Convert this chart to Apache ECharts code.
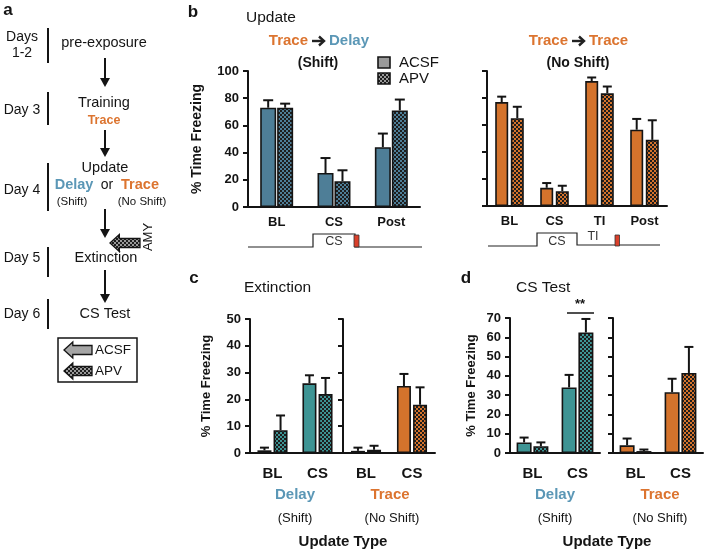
<!DOCTYPE html>
<html><head><meta charset="utf-8">
<script src="https://cdn.jsdelivr.net/npm/echarts@6/dist/echarts.min.js"></script>
<style>html,body{margin:0;padding:0;background:#fff}#c{width:710px;height:552px}</style>
</head><body><div id="c"></div>
<script>
// ---------- data ----------
const catsB1 = ['BL', 'CS', 'Post'];
const b1Acsf = [73, 25, 44];
const b1AcsfErr = [5.5, 11, 10];
const b1Apv = [73, 19, 71];
const b1ApvErr = [3, 8, 8];

const catsB2 = ['BL', 'CS', 'TI', 'Post'];
const b2Acsf = [77, 13.5, 92.5, 56.5];
const b2AcsfErr = [4, 3.5, 2.7, 8];
const b2Apv = [65, 11, 83.5, 49];
const b2ApvErr = [8.5, 4, 5, 14.5];

const catsCD = ['BL', 'CS'];
const c1Acsf = [1, 26];
const c1AcsfErr = [1, 3];
const c1Apv = [8.5, 22];
const c1ApvErr = [5.5, 6];
const c2Acsf = [0.8, 25];
const c2AcsfErr = [1.2, 4.5];
const c2Apv = [1.2, 18];
const c2ApvErr = [1.5, 6.5];

const d1Acsf = [5.5, 34];
const d1AcsfErr = [2.5, 6.5];
const d1Apv = [3.5, 62.5];
const d1ApvErr = [2, 7];
const d2Acsf = [4, 31.5];
const d2AcsfErr = [3.5, 7];
const d2Apv = [1, 41.5];
const d2ApvErr = [0.8, 13.5];

// ---------- styles ----------
const FONT = "'Liberation Sans', Arial, sans-serif";
const ORANGE = '#D4732C';
const BLUE_B = '#4E7E97';
const TEAL = '#3E9494';
const DELAY_TXT = '#5B97B6';
const TRACE_TXT = '#DC742F';
const INK = '#141414';

function pattern(base, dark) {
  const c = document.createElement('canvas');
  c.width = 4; c.height = 4;
  const x = c.getContext('2d');
  x.fillStyle = dark; x.fillRect(0, 0, 4, 4);
  x.fillStyle = base; x.fillRect(0, 0, 2, 2); x.fillRect(2, 2, 2, 2);
  return { image: c, repeat: 'repeat' };
}

const grids = [
  { left: 248, top: 71, width: 172, height: 136 },
  { left: 487, top: 71, width: 180, height: 135 },
  { left: 250, top: 319, width: 90, height: 134 },
  { left: 343, top: 319, width: 92, height: 134 },
  { left: 510, top: 318, width: 90, height: 135 },
  { left: 613, top: 318, width: 90, height: 135 }
];

function xAx(i, cats, fs, margin) {
  return {
    gridIndex: i, type: 'category', data: cats,
    axisLine: { lineStyle: { color: INK, width: 2 } },
    axisTick: { alignWithLabel: true, length: 4, lineStyle: { color: INK, width: 2 } },
    axisLabel: { color: INK, fontWeight: 'bold', fontSize: fs, fontFamily: FONT, margin: margin }
  };
}
function yAx(i, max, interval, showLabels, name, nameGap, nameFs, labelFs) {
  return {
    gridIndex: i, type: 'value', min: 0, max: max, interval: interval,
    axisLine: { show: true, lineStyle: { color: INK, width: 2 } },
    axisTick: { show: true, length: 5, lineStyle: { color: INK, width: 2 } },
    splitLine: { show: false },
    axisLabel: { show: showLabels, color: INK, fontWeight: 'bold', fontSize: labelFs, fontFamily: FONT, margin: 9 },
    name: name, nameLocation: 'middle', nameGap: nameGap,
    nameTextStyle: { color: INK, fontWeight: 'bold', fontSize: nameFs, fontFamily: FONT }
  };
}

function barSeries(i, acsf, acsfErr, apv, apvErr, color, bw, gapFrac, capHalf) {
  const off = (bw + gapFrac * bw) / 2;
  const errSeries = (vals, errs, dir) => ({
    type: 'custom', xAxisIndex: i, yAxisIndex: i, z: 4, silent: true,
    data: vals.map((v, k) => [k, v, errs[k]]),
    encode: { x: 0, y: 1 },
    renderItem: function (params, api) {
      const base = api.coord([api.value(0), api.value(1)]);
      const top = api.coord([api.value(0), api.value(1) + api.value(2)]);
      const cx = base[0] + dir * off;
      const st = { stroke: INK, lineWidth: 2 };
      return {
        type: 'group', children: [
          { type: 'line', shape: { x1: cx, y1: base[1], x2: cx, y2: top[1] }, style: st },
          { type: 'line', shape: { x1: cx - capHalf, y1: top[1], x2: cx + capHalf, y2: top[1] }, style: st }
        ]
      };
    }
  });
  return [
    { type: 'bar', name: 'ACSF', xAxisIndex: i, yAxisIndex: i, data: acsf, barWidth: bw, barGap: (gapFrac * 100) + '%',
      itemStyle: { color: color, borderColor: INK, borderWidth: 1.6 } },
    { type: 'bar', name: 'APV', xAxisIndex: i, yAxisIndex: i, data: apv, barWidth: bw, barGap: (gapFrac * 100) + '%',
      itemStyle: { color: pattern(color, '#1d1d1d'), borderColor: INK, borderWidth: 1.6 } },
    errSeries(acsf, acsfErr, -1),
    errSeries(apv, apvErr, 1)
  ];
}

// ---------- graphic helpers ----------
function T(text, x, y, size, opts) {
  opts = opts || {};
  return { type: 'text', x: x, y: y, rotation: opts.rot || 0, z: 10,
    style: { text: text, fill: opts.color || INK, font: (opts.bold ? 'bold ' : '') + size + 'px ' + FONT,
      align: opts.align || 'center', verticalAlign: 'middle', textAlign: opts.align || 'center', textVerticalAlign: 'middle' } };
}
function L(x1, y1, x2, y2, w, c) {
  return { type: 'line', z: 10, shape: { x1: x1, y1: y1, x2: x2, y2: y2 }, style: { stroke: c || INK, lineWidth: w || 2 } };
}
function downArrow(x, y1, y2) {
  return [
    L(x, y1, x, y2 - 7, 2),
    { type: 'polygon', z: 10, shape: { points: [[x - 5, y2 - 9], [x + 5, y2 - 9], [x, y2]] }, style: { fill: INK } }
  ];
}
function rightArrow(x, y) {
  return [
    L(x - 6, y, x + 5, y, 2.4, '#222'),
    { type: 'polyline', z: 10, shape: { points: [[x + 1, y - 4.5], [x + 6, y], [x + 1, y + 4.5]] }, style: { stroke: '#222', lineWidth: 2.4, fill: null } }
  ];
}
function leftArrow(tipX, cy, endX, hh, sh, fill) {
  const hx = tipX + hh * 1.1;
  return { type: 'polygon', z: 10, shape: { points: [[tipX, cy], [hx, cy - hh], [hx, cy - sh], [endX, cy - sh], [endX, cy + sh], [hx, cy + sh], [hx, cy + hh]] },
    style: { fill: fill, stroke: INK, lineWidth: 1.3 } };
}

const grayPat = pattern('#9a9a9a', '#1d1d1d');

const graphic = [
  // ----- panel a -----
  T('a', 8, 10, 17, { bold: true }),
  T('Days', 22, 37, 14), T('1-2', 22, 53, 14),
  L(48, 28, 48, 63, 2),
  T('pre-exposure', 104, 43, 14.5),
  ...downArrow(105, 58, 87),
  T('Day 3', 22, 110, 14),
  L(48, 92, 48, 125, 2),
  T('Training', 104, 103, 14.5),
  T('Trace', 104, 121, 12.5, { bold: true, color: TRACE_TXT }),
  ...downArrow(105, 130, 157),
  T('Update', 105, 168, 14.5),
  T('Day 4', 22, 190, 14),
  L(48, 163, 48, 211, 2),
  T('Delay', 74, 185, 14.5, { bold: true, color: DELAY_TXT }),
  T('or', 107, 185, 14),
  T('Trace', 140, 185, 14.5, { bold: true, color: TRACE_TXT }),
  T('(Shift)', 72, 202, 11.5),
  T('(No Shift)', 142, 202, 11.5),
  ...downArrow(105, 209, 238),
  leftArrow(110, 243, 140, 8.5, 4.5, grayPat),
  T('AMY', 148, 237, 13, { rot: Math.PI / 2 }),
  T('Day 5', 22, 258, 14),
  L(48, 247, 48, 277, 2),
  T('Extinction', 106, 258, 14.5),
  ...downArrow(105, 270, 303),
  T('Day 6', 22, 314, 14),
  L(48, 299, 48, 329, 2),
  T('CS Test', 105, 314, 14.5),
  { type: 'rect', z: 9, shape: { x: 58, y: 338, width: 79, height: 44 }, style: { fill: '#fff', stroke: INK, lineWidth: 1.5 } },
  leftArrow(64, 350, 92, 8, 4.5, '#a5a5a5'),
  T('ACSF', 95, 350, 13.5, { align: 'left' }),
  leftArrow(64, 371, 92, 8, 4.5, grayPat),
  T('APV', 95, 371, 13.5, { align: 'left' }),

  // ----- panel b -----
  T('b', 193, 12, 17, { bold: true }),
  T('Update', 246, 18, 15.5, { align: 'left' }),
  T('Trace', 308, 41, 15, { bold: true, color: TRACE_TXT, align: 'right' }),
  ...rightArrow(318, 41),
  T('Delay', 329, 41, 15, { bold: true, color: DELAY_TXT, align: 'left' }),
  T('(Shift)', 318, 63, 14, { bold: true }),
  { type: 'rect', z: 10, shape: { x: 378, y: 57, width: 12, height: 11 }, style: { fill: '#9a9a9a', stroke: INK, lineWidth: 1.6 } },
  { type: 'rect', z: 10, shape: { x: 378, y: 73, width: 12, height: 11 }, style: { fill: grayPat, stroke: INK, lineWidth: 1.6 } },
  T('ACSF', 399, 63, 15, { align: 'left' }),
  T('APV', 399, 79, 15, { align: 'left' }),
  T('Trace', 568, 41, 15, { bold: true, color: TRACE_TXT, align: 'right' }),
  ...rightArrow(578, 41),
  T('Trace', 589, 41, 15, { bold: true, color: TRACE_TXT, align: 'left' }),
  T('(No Shift)', 578, 63, 14, { bold: true }),
  // timelines
  { type: 'polyline', z: 10, shape: { points: [[248, 247], [313, 247], [313, 234], [355, 234], [355, 247], [422, 247]] }, style: { stroke: '#222', lineWidth: 1.2, fill: null } },
  { type: 'rect', z: 11, shape: { x: 354, y: 235, width: 5, height: 12 }, style: { fill: '#D9402A', stroke: '#333', lineWidth: 0.8 } },
  T('CS', 334, 242, 12.5, { color: '#333' }),
  { type: 'polyline', z: 10, shape: { points: [[488, 246], [537, 246], [537, 233], [577, 233], [577, 245], [660, 245]] }, style: { stroke: '#222', lineWidth: 1.2, fill: null } },
  { type: 'rect', z: 11, shape: { x: 615, y: 235, width: 4.5, height: 11 }, style: { fill: '#D9402A', stroke: '#333', lineWidth: 0.8 } },
  T('CS', 557, 242, 12.5, { color: '#333' }),
  T('TI', 593, 237, 12.5, { color: '#333' }),

  // ----- panel c -----
  T('c', 194, 278, 17, { bold: true }),
  T('Extinction', 244, 288, 15.5, { align: 'left' }),
  T('Delay', 295, 495, 15, { bold: true, color: DELAY_TXT }),
  T('(Shift)', 295, 518, 13),
  T('Trace', 390, 495, 15, { bold: true, color: TRACE_TXT }),
  T('(No Shift)', 392, 518, 13),
  T('Update Type', 343, 542, 15, { bold: true }),

  // ----- panel d -----
  T('d', 466, 278, 17, { bold: true }),
  T('CS Test', 516, 288, 15.5, { align: 'left' }),
  L(567, 313, 594, 313, 1.5),
  T('**', 580, 304, 13, { bold: true }),
  T('Delay', 555, 495, 15, { bold: true, color: DELAY_TXT }),
  T('(Shift)', 555, 518, 13),
  T('Trace', 660, 495, 15, { bold: true, color: TRACE_TXT }),
  T('(No Shift)', 660, 518, 13),
  T('Update Type', 607, 542, 15, { bold: true })
];

const option = {
  animation: false,
  backgroundColor: '#fff',
  textStyle: { fontFamily: FONT },
  grid: grids,
  xAxis: [
    xAx(0, catsB1, 13, 9), xAx(1, catsB2, 13, 9),
    xAx(2, catsCD, 15, 13), xAx(3, catsCD, 15, 13),
    xAx(4, catsCD, 15, 13), xAx(5, catsCD, 15, 13)
  ],
  yAxis: [
    yAx(0, 100, 20, true, '% Time Freezing', 44, 14, 13),
    yAx(1, 100, 20, false, '', 0, 12, 13),
    yAx(2, 50, 10, true, '% Time Freezing', 37, 13, 13),
    yAx(3, 50, 10, false, '', 0, 12, 13),
    yAx(4, 70, 10, true, '% Time Freezing', 32, 13, 13),
    yAx(5, 70, 10, false, '', 0, 12, 13)
  ],
  series: [
    ...barSeries(0, b1Acsf, b1AcsfErr, b1Apv, b1ApvErr, BLUE_B, 16, 0.06, 5),
    ...barSeries(1, b2Acsf, b2AcsfErr, b2Apv, b2ApvErr, ORANGE, 13, 0.2, 4.5),
    ...barSeries(2, c1Acsf, c1AcsfErr, c1Apv, c1ApvErr, TEAL, 14, 0.15, 4.5),
    ...barSeries(3, c2Acsf, c2AcsfErr, c2Apv, c2ApvErr, ORANGE, 14, 0.15, 4.5),
    ...barSeries(4, d1Acsf, d1AcsfErr, d1Apv, d1ApvErr, TEAL, 15, 0.12, 4.5),
    ...barSeries(5, d2Acsf, d2AcsfErr, d2Apv, d2ApvErr, ORANGE, 15, 0.12, 4.5)
  ],
  graphic: graphic
};

const chart = echarts.init(document.getElementById('c'), null, { renderer: 'canvas' });
chart.setOption(option);
</script>
</body></html>
